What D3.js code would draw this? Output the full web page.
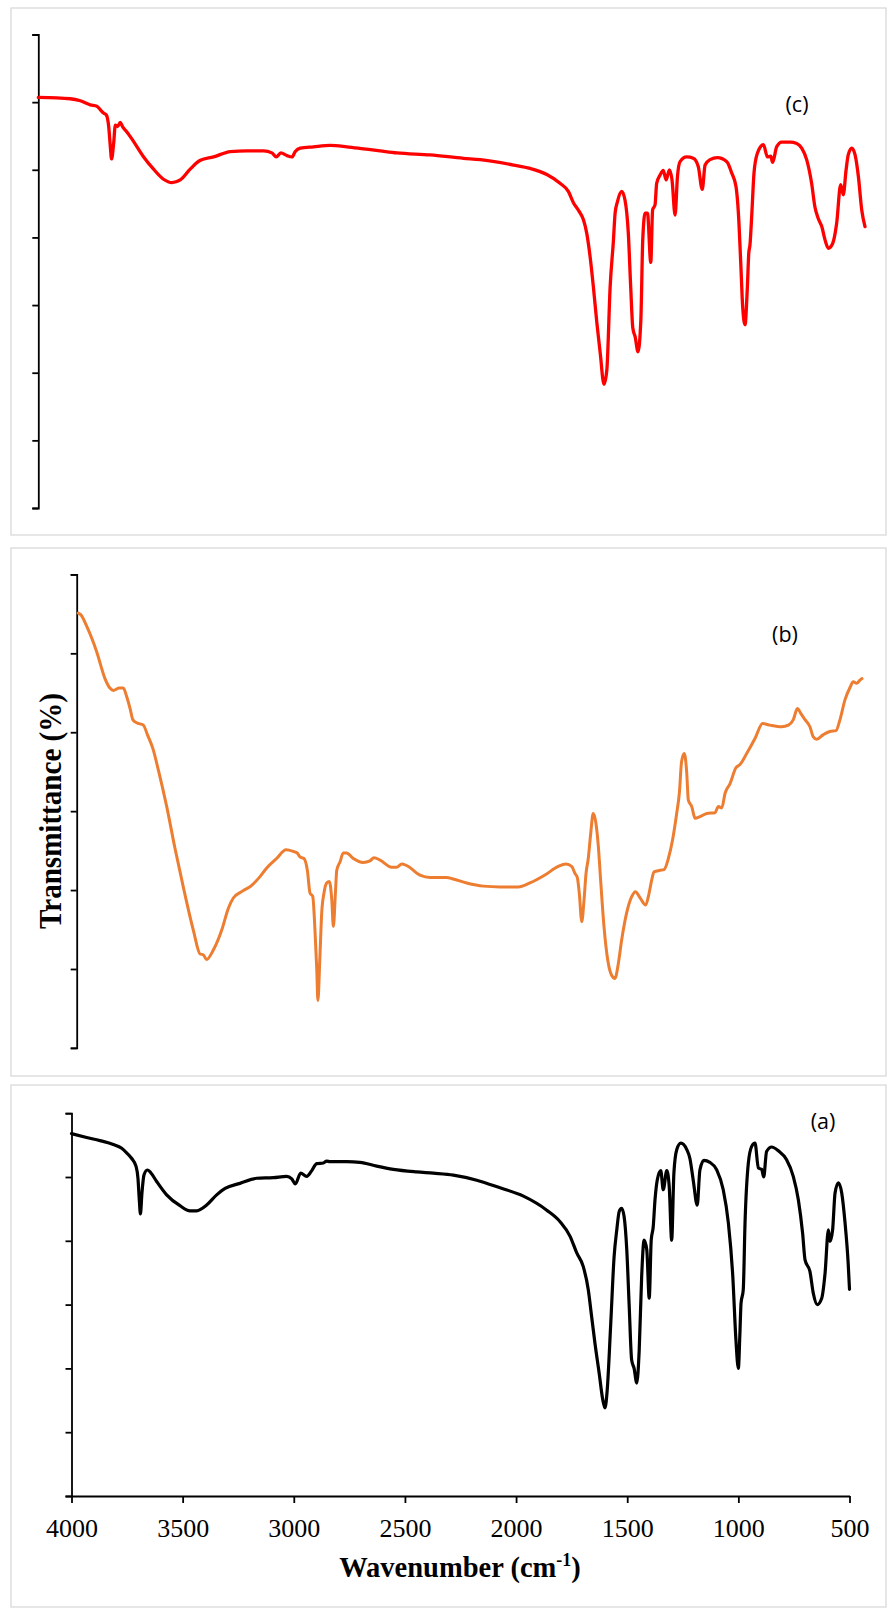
<!DOCTYPE html>
<html><head><meta charset="utf-8">
<script src="https://cdn.jsdelivr.net/npm/d3@7"></script>
<style>body{margin:0;background:#fff}svg{display:block}
.serif{font-family:"Liberation Serif","Times New Roman",serif}
.lab{font-family:"Open Sans",Lato,sans-serif}
</style>
</head><body>
<svg id="chart" width="888" height="1608"></svg>
<script>
// ---------- data ----------
const xTickValues = [4000, 3500, 3000, 2500, 2000, 1500, 1000, 500];
const panelLabels = ["(c)", "(b)", "(a)"];
const xAxisTitle = "Wavenumber (cm";
const yAxisTitle = "Transmittance (%)";

// (c)
const wavenumberC = [4000,3865,3822,3780,3752,3738,3724,3712,3702,3695,3690,3681,3674,3664,3653,3642,3625,3597,3554,3512,3470,3434,3399,3357,3314,3258,3187,3117,3046,3011,2993,2973,2947,2926,2912,2891,2835,2764,2694,2623,2553,2482,2341,2200,2129,1988,1918,1847,1791,1756,1734,1713,1692,1678,1664,1650,1635,1621,1605,1593,1579,1565,1558,1548,1530,1516,1502,1492,1483,1473,1461,1449,1441,1431,1421,1407,1399,1389,1382,1368,1354,1342,1328,1317,1304,1294,1283,1255,1227,1206,1189,1177,1156,1125,1085,1064,1046,1036,1026,1018,1008,998,992,987,979,970,956,930,913,899,891,874,853,817,789,768,747,726,712,698,683,669,655,637,620,603,592,580,571,556,542,528,514,500];
const transmittanceC = [60.7,60.5,60.2,59.6,59.4,58.9,58.4,58.1,56.4,53.4,51.6,53.9,56.6,56.4,57.0,56.3,55.6,54.2,51.9,50.1,48.6,48.1,48.5,50.1,51.4,51.9,52.7,52.8,52.8,52.5,51.9,52.5,52.1,51.9,52.7,53.2,53.4,53.6,53.4,53.1,52.8,52.5,52.2,51.7,51.5,50.7,50.2,49.3,48.0,46.8,45.1,44.0,42.6,40.6,37.2,32.7,27.3,22.9,18.3,20.4,32.7,39.6,43.6,45.3,46.8,45.5,40.6,32.7,26.6,25.3,23.1,27.8,39.6,43.6,43.6,36.3,44.1,44.8,48.0,49.2,49.9,48.5,50.0,48.5,43.3,49.0,51.2,51.9,51.7,50.5,47.1,50.7,51.5,51.8,51.2,49.5,47.5,43.6,36.2,29.8,27.1,32.7,37.7,38.9,43.6,49.5,52.4,53.7,51.9,52.0,51.1,53.4,54.1,54.1,53.9,53.2,51.5,48.0,44.5,42.8,41.6,39.6,38.4,39.1,42.1,47.8,46.3,50.0,52.2,53.2,52.2,49.0,44.1,41.6];

// (b)
const wavenumberB = [3993,3982,3955,3911,3874,3852,3837,3810,3792,3777,3762,3750,3733,3703,3685,3659,3636,3599,3562,3525,3480,3450,3436,3421,3391,3354,3324,3302,3265,3220,3183,3153,3109,3067,3035,3017,3005,2987,2972,2960,2948,2938,2930,2925,2916,2908,2898,2886,2874,2863,2856,2847,2841,2826,2812,2797,2767,2723,2693,2675,2648,2596,2574,2551,2529,2470,2425,2351,2322,2262,2188,2113,2032,1980,1913,1854,1819,1794,1779,1769,1760,1749,1739,1730,1720,1709,1698,1686,1675,1665,1650,1633,1616,1601,1586,1571,1549,1526,1510,1489,1464,1452,1437,1427,1400,1382,1363,1344,1326,1314,1304,1292,1281,1274,1259,1244,1222,1192,1155,1140,1125,1110,1088,1062,1044,1014,977,943,910,858,828,806,788,773,754,732,717,702,672,643,616,598,576,553,539,524,509,500];
const transmittanceB = [55.1,54.9,53.4,50.2,46.8,45.6,45.3,45.6,45.6,44.5,43.0,41.6,41.2,40.9,39.7,37.8,35.2,30.6,25.3,20.4,14.9,11.9,11.8,11.2,12.4,14.9,17.7,19.0,19.8,20.6,21.7,22.8,24.0,25.1,24.9,24.7,24.2,24.0,22.5,19.6,19.2,14.9,9.9,6.0,11.6,17.1,19.6,20.9,21.1,18.7,15.4,19.6,22.5,23.6,24.7,24.7,24.0,23.5,23.7,24.1,23.8,22.9,22.9,23.3,23.1,21.9,21.6,21.6,21.4,20.9,20.5,20.4,20.4,20.9,21.9,23.0,23.3,23.0,22.1,21.6,19.6,16.0,18.7,22.1,24.0,27.2,29.7,28.5,25.5,21.3,15.4,11.1,9.2,8.8,10.7,13.7,17.1,19.2,19.8,19.0,18.1,19.2,21.3,22.3,22.5,22.6,24.0,26.4,29.7,32.3,36.3,37.3,34.8,31.4,30.6,29.1,29.3,29.7,29.8,30.6,30.4,32.3,33.5,35.5,35.9,37.3,39.2,41.1,40.9,40.7,40.9,41.6,43.0,42.4,41.6,40.7,39.4,39.1,39.7,40.1,40.2,41.6,44.1,45.7,46.4,46.2,46.6,46.8];

// (a)
const wavenumberA = [4000,3932,3872,3812,3774,3752,3729,3710,3701,3695,3690,3683,3674,3659,3644,3617,3572,3512,3467,3437,3392,3347,3309,3242,3167,3092,3032,3009,2993,2969,2942,2919,2897,2867,2852,2837,2762,2702,2627,2552,2447,2372,2282,2177,2072,1967,1862,1802,1757,1727,1698,1675,1660,1645,1626,1610,1600,1590,1574,1559,1547,1536,1525,1514,1502,1491,1480,1469,1457,1446,1435,1424,1412,1401,1392,1383,1375,1365,1349,1338,1322,1311,1300,1290,1277,1259,1232,1218,1203,1185,1173,1155,1128,1097,1068,1045,1025,1011,1000,993,988,978,970,955,940,925,910,895,886,873,850,820,783,753,730,711,700,678,663,645,625,610,595,588,576,565,550,535,520,506,500];
const transmittanceA = [56.8,56.2,55.7,55.1,54.5,53.8,52.9,51.7,49.8,46.4,44.2,47.5,50.3,51.1,50.7,49.3,47.2,45.5,44.7,44.7,45.6,47.2,48.2,49.0,49.8,49.9,50.1,49.7,48.9,50.6,50.1,51.0,52.1,52.2,52.5,52.4,52.4,52.3,51.7,51.2,50.8,50.6,50.3,49.5,48.3,47.0,44.8,43.0,40.7,38.1,36.0,32.3,28.1,23.9,19.2,15.1,13.8,16.6,27.1,37.5,41.7,44.6,45.1,43.8,38.6,29.7,21.3,20.0,17.7,22.9,34.4,40.1,38.6,31.0,40.1,42.2,46.4,49.5,51.0,48.0,51.0,48.5,40.1,50.6,54.3,55.3,54.3,52.9,49.5,45.6,51.1,52.6,52.3,51.1,48.0,42.8,34.4,24.5,20.0,25.5,30.2,32.3,42.8,52.2,54.8,55.3,51.4,51.2,50.0,54.0,54.7,54.1,52.7,50.1,46.4,41.2,37.0,35.2,31.8,30.0,31.0,34.9,41.7,39.9,41.7,47.5,49.1,47.5,42.8,36.5,32.4];

// ---------- layout ----------
const svg = d3.select("#chart");
svg.append("rect").attr("width", 888).attr("height", 1608).attr("fill", "#fff");

const panels = [
  {label: panelLabels[0], wn: wavenumberC, t: transmittanceC, color: "#FF0000", sw: 3.3,
   box: [11, 8, 875, 527], xr: [38.3, 865], yr: [508, 34.5], yMax: 70, lab: [797, 111.5]},
  {label: panelLabels[1], wn: wavenumberB, t: transmittanceB, color: "#ED7D31", sw: 3.0,
   box: [11, 548, 875, 528], xr: [76.7, 862], yr: [1047.9, 574.4], yMax: 60, lab: [785, 641.5]},
  {label: panelLabels[2], wn: wavenumberA, t: transmittanceA, color: "#000000", sw: 3.2,
   box: [11, 1085, 875, 522], xr: [71.5, 849.5], yr: [1496, 1113.2], yMax: 60, lab: [823, 1129], xAxis: true}
];

panels.forEach(p => {
  svg.append("rect")
    .attr("x", p.box[0]).attr("y", p.box[1]).attr("width", p.box[2]).attr("height", p.box[3])
    .attr("fill", "#fff").attr("stroke", "#D9D9D9").attr("stroke-width", 1.3);

  const x = d3.scaleLinear().domain([4000, 500]).range(p.xr);
  const y = d3.scaleLinear().domain([0, p.yMax]).range(p.yr);

  const yAxis = svg.append("g")
    .attr("transform", `translate(${p.xr[0]},0)`)
    .call(d3.axisLeft(y).tickValues(d3.range(0, p.yMax + 1, 10)).tickSize(6).tickFormat(""));
  yAxis.selectAll("path,line").attr("stroke", "#000").attr("stroke-width", 1.8);

  if (p.xAxis) {
    const xAxis = svg.append("g")
      .attr("transform", `translate(0,${p.yr[0]})`)
      .call(d3.axisBottom(x).tickValues(xTickValues).tickSize(7).tickSizeOuter(0).tickFormat(d3.format("d")));
    xAxis.attr("font-family", null).attr("font-size", null);
    xAxis.selectAll("path,line").attr("stroke", "#000").attr("stroke-width", 1.8);
    xAxis.selectAll("text")
      .attr("y", 41).attr("dy", 0)
      .attr("class", "serif")
      .style("font-family", "'Liberation Serif','Times New Roman',serif")
      .style("font-size", "26px").attr("fill", "#000");
  }

  const pts = p.wn.map((w, i) => [w, p.t[i]]);
  const line = d3.line().x(d => x(d[0])).y(d => y(d[1])).curve(d3.curveMonotoneX);
  svg.append("path").datum(pts)
    .attr("d", line).attr("fill", "none")
    .attr("stroke", p.color).attr("stroke-width", p.sw)
    .attr("stroke-linejoin", "round").attr("stroke-linecap", "round");

  svg.append("text")
    .attr("class", "lab")
    .attr("x", p.lab[0]).attr("y", p.lab[1]).attr("text-anchor", "middle")
    .style("font-size", "21.5px").attr("fill", "#000")
    .text(p.label);
});

// axis titles
const xl = svg.append("text")
  .attr("class", "serif")
  .attr("x", 460).attr("y", 1577).attr("text-anchor", "middle")
  .style("font-weight", "bold").style("font-size", "28.5px").attr("fill", "#000");
xl.append("tspan").text(xAxisTitle);
xl.append("tspan").attr("dy", -11).style("font-size", "18px").text("-1");
xl.append("tspan").attr("dy", 11).text(")");

svg.append("text")
  .attr("class", "serif")
  .attr("transform", "translate(61,811) rotate(-90)")
  .attr("text-anchor", "middle")
  .style("font-weight", "bold").style("font-size", "31px").attr("fill", "#000")
  .attr("textLength", 236).attr("lengthAdjust", "spacingAndGlyphs")
  .text(yAxisTitle);
</script>
</body></html>
